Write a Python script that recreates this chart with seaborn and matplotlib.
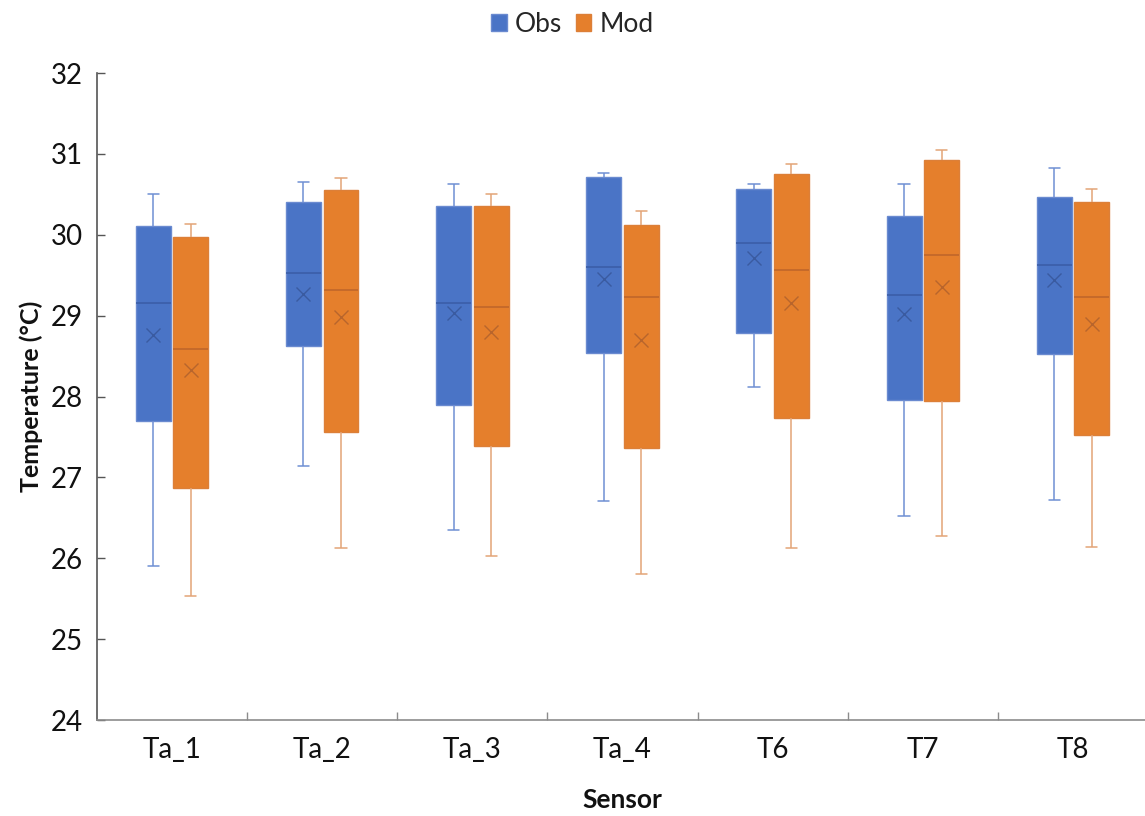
import numpy as np
import pandas as pd
import matplotlib
matplotlib.use("Agg")
import matplotlib.pyplot as plt
from matplotlib.ticker import FixedLocator, NullFormatter, FixedFormatter
import seaborn as sns

# ---- data: five-number summaries and means per sensor ----
sensors = ["Ta_1", "Ta_2", "Ta_3", "Ta_4", "T6", "T7", "T8"]
series = ["Obs", "Mod"]

obs_min = [25.91, 27.14, 26.35, 26.71, 28.12, 26.52, 26.72]
obs_q1 = [27.70, 28.62, 27.89, 28.54, 28.79, 27.96, 28.52]
obs_med = [29.16, 29.53, 29.16, 29.60, 29.90, 29.26, 29.63]
obs_q3 = [30.11, 30.40, 30.35, 30.71, 30.57, 30.23, 30.47]
obs_max = [30.50, 30.65, 30.63, 30.76, 30.63, 30.63, 30.83]
obs_mean = [28.76, 29.27, 29.03, 29.45, 29.71, 29.02, 29.44]

mod_min = [25.53, 26.13, 26.03, 25.81, 26.13, 26.27, 26.14]
mod_q1 = [26.87, 27.56, 27.39, 27.36, 27.73, 27.95, 27.53]
mod_med = [28.59, 29.32, 29.11, 29.23, 29.57, 29.75, 29.23]
mod_q3 = [29.97, 30.55, 30.35, 30.12, 30.75, 30.92, 30.40]
mod_max = [30.13, 30.70, 30.51, 30.30, 30.87, 31.05, 30.56]
mod_mean = [28.33, 28.98, 28.80, 28.70, 29.16, 29.35, 28.90]

y_ticks = [24, 25, 26, 27, 28, 29, 30, 31, 32]

summaries = {
    "Obs": (obs_min, obs_q1, obs_med, obs_q3, obs_max),
    "Mod": (mod_min, mod_q1, mod_med, mod_q3, mod_max),
}
means = {"Obs": obs_mean, "Mod": mod_mean}

# Long table: the five summary values for each box reproduce its quartiles
rows = []
for s in series:
    for i, sensor in enumerate(sensors):
        for arr in summaries[s]:
            rows.append({"Sensor": sensor, "Series": s, "Temperature": arr[i]})
df = pd.DataFrame(rows)

# ---- styling ----
fill = {"Obs": "#4a74c6", "Mod": "#e57f2c"}
edge = {"Obs": "#6a8ad0", "Mod": "#dc7f38"}
median_c = {"Obs": "#3b5ea8", "Mod": "#c0662a"}
whisk = {"Obs": "#6f8fd3", "Mod": "#e3a477"}
mean_c = {"Obs": "#3a5ba0", "Mod": "#b8652c"}

sns.set_theme(style="white")
plt.rcParams["font.family"] = ["Lato", "DejaVu Sans"]

fig = plt.figure(figsize=(11.45, 8.16), dpi=100)
ax = fig.add_axes([0.0847, 0.1176, 0.918, 0.7929])

for s in series:
    n0 = len(ax.patches)
    sns.boxplot(
        data=df[df["Series"] == s], x="Sensor", y="Temperature",
        hue="Series", hue_order=series, order=sensors,
        palette=fill, saturation=1, dodge=True, width=0.5, gap=0.07,
        whis=(0, 100), showfliers=False, legend=False, ax=ax,
        boxprops={"edgecolor": edge[s], "linewidth": 1.0},
        medianprops={"color": median_c[s], "linewidth": 1.2},
        whiskerprops={"color": whisk[s], "linewidth": 1.1},
        capprops={"color": whisk[s], "linewidth": 1.1},
        capwidths=0.075,
    )
    # mean markers placed at the centres of the boxes just drawn
    centers = sorted(
        (p.get_path().get_extents().x0 + p.get_path().get_extents().x1) / 2
        for p in ax.patches[n0:]
    )
    ax.plot(centers, means[s], linestyle="none", marker="x", markersize=10,
            markeredgewidth=1.0, color=mean_c[s], zorder=5)

# ---- axes ----
ax.set_xlim(-0.5, len(sensors) - 0.5)
ax.set_ylim(y_ticks[0], y_ticks[-1])
ax.set_yticks(y_ticks)
ax.set_yticklabels([str(t) for t in y_ticks])

ax.xaxis.set_major_locator(FixedLocator([i + 0.5 for i in range(len(sensors) - 1)]))
ax.xaxis.set_major_formatter(NullFormatter())
ax.xaxis.set_minor_locator(FixedLocator(list(range(len(sensors)))))
ax.xaxis.set_minor_formatter(FixedFormatter(sensors))

ax.tick_params(axis="x", which="major", direction="in", length=6, width=1.0,
               color="#8c8c8c", bottom=True)
ax.tick_params(axis="x", which="minor", length=0, pad=12, labelsize=20,
               labelcolor="#111111", bottom=True)
ax.tick_params(axis="y", direction="in", length=6, width=1.0, color="#555555",
               pad=10, labelsize=20, labelcolor="#111111", left=True)

for side in ("top", "right"):
    ax.spines[side].set_visible(False)
ax.spines["left"].set_color("#555555")
ax.spines["left"].set_linewidth(1.2)
ax.spines["bottom"].set_color("#8c8c8c")
ax.spines["bottom"].set_linewidth(1.2)

ax.set_xlabel("Sensor", fontsize=19, fontweight="bold", labelpad=18, color="#111111")
ax.set_ylabel("Temperature (°C)", fontsize=18, fontweight="bold", labelpad=6,
              color="#111111")

handles = [matplotlib.patches.Patch(facecolor=fill[s], edgecolor=edge[s]) for s in series]
fig.legend(handles, series, loc="upper center", bbox_to_anchor=(0.5, 1.005),
           ncol=2, frameon=False, fontsize=19, handlelength=0.6, handleheight=0.6,
           handletextpad=0.3, columnspacing=0.5, borderaxespad=0.2)

fig.savefig("out.png", dpi=100)
